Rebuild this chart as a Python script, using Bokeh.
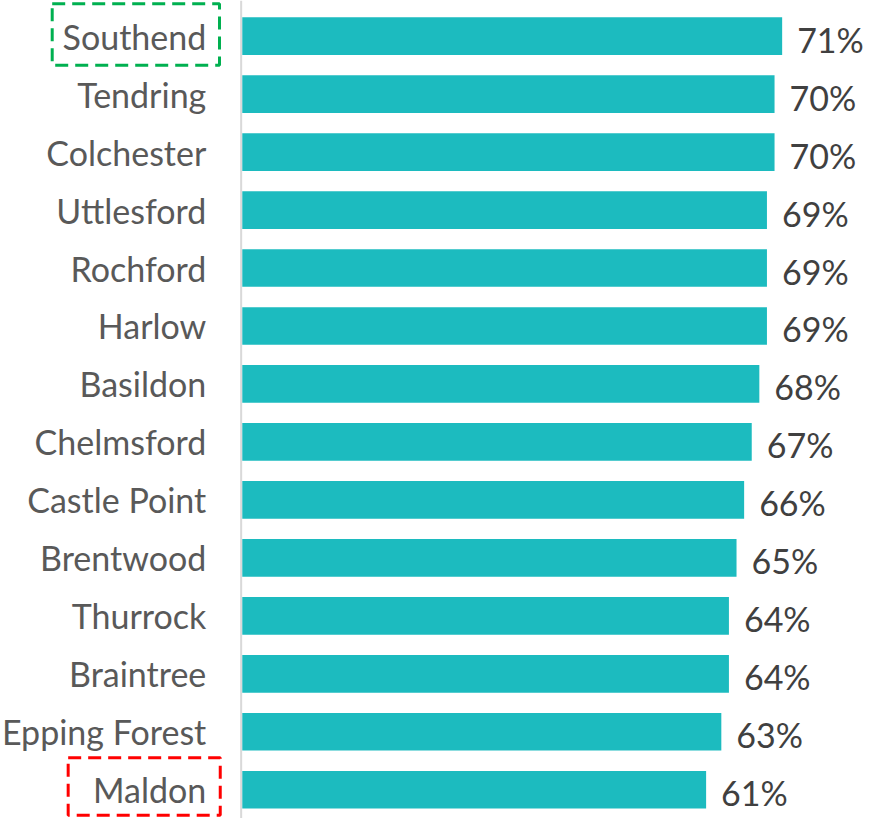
from bokeh.plotting import figure
from bokeh.models import Range1d, Span, ColumnDataSource
from bokeh.core.properties import value
from bokeh.embed import file_html
from bokeh.resources import INLINE

categories = ["Southend", "Tendring", "Colchester", "Uttlesford", "Rochford", "Harlow",
              "Basildon", "Chelmsford", "Castle Point", "Brentwood", "Thurrock",
              "Braintree", "Epping Forest", "Maldon"]
values = [71, 70, 70, 69, 69, 69, 68, 67, 66, 65, 64, 64, 63, 61]
value_labels = [f"{v}%" for v in values]
highlight_best = "Southend"
highlight_worst = "Maldon"

ypos = list(range(len(categories)))
src = ColumnDataSource(dict(y=ypos, v=values, cat=categories, lab=value_labels))

p = figure(width=864, height=818, x_range=Range1d(-31.8, 81.83), y_range=Range1d(13.496, -0.615),
           min_border=0, output_backend="svg", toolbar_location=None)
p.axis.visible = False
p.grid.visible = False
p.outline_line_color = None
p.background_fill_color = "white"

p.add_layout(Span(location=-0.15, dimension="height", line_color="#D9D9D9", line_width=2, level="underlay"))

p.hbar(y="y", left=0, right="v", height=0.65, source=src, fill_color="#1CBBBF", line_color=None)

FONT = "Lato"
p.text(x=0, y="y", text="cat", source=src, x_offset=-36, text_align="right", text_baseline="middle",
       text_font=value(FONT), text_font_size="34px", text_color="#595959")
p.text(x="v", y="y", text="lab", source=src, x_offset=15, text_align="left", text_baseline="middle",
       text_font=value(FONT), text_font_size="34px", text_color="#404040", y_offset=3)

# highlight boxes around best and worst labels
bi = categories.index(highlight_best)
wi = categories.index(highlight_worst)
p.quad(left=[-25.0], right=[-3.0], top=[bi - 0.56], bottom=[bi + 0.5], fill_color=None,
       line_color="#00B050", line_width=3, line_dash="13 7")
p.quad(left=[-22.9], right=[-2.9], top=[wi - 0.55], bottom=[wi + 0.44], fill_color=None,
       line_color="#FF0000", line_width=3, line_dash="13 7")

open("out.html", "w").write(file_html(p, INLINE))
